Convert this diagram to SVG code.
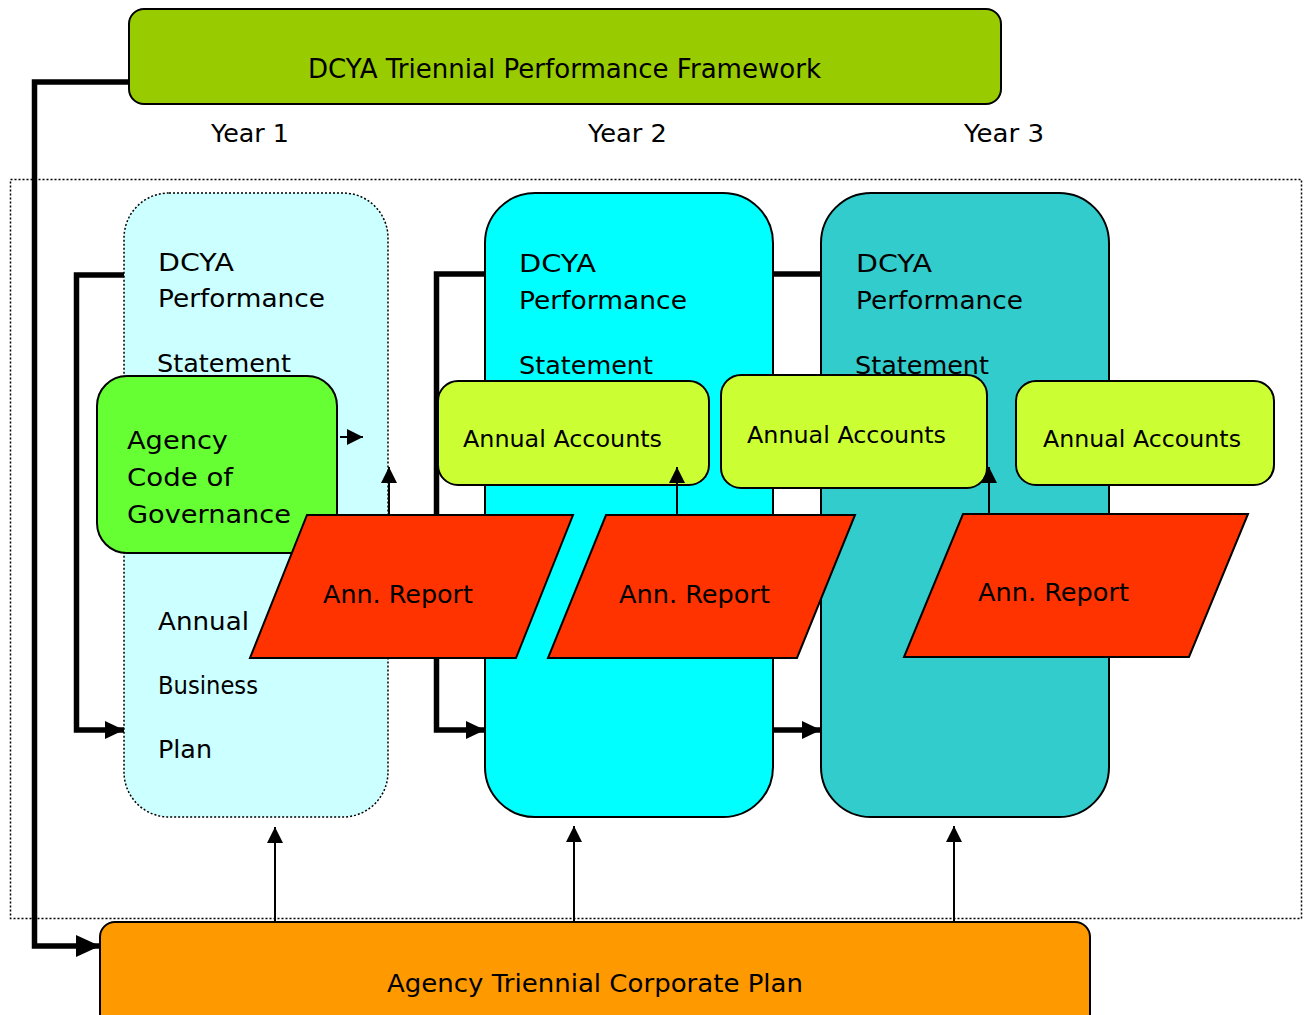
<svg xmlns="http://www.w3.org/2000/svg" width="1310" height="1015" viewBox="0 0 1310 1015">
<style>
text{font-family:"DejaVu Sans","Liberation Sans",sans-serif;fill:#000;}
.t26{font-size:26px}.t25{font-size:25px}.t24{font-size:24px}.t23{font-size:23px}
.box{stroke:#000;stroke-width:2}
.dot{fill:none;stroke:#000;stroke-width:1.5;stroke-dasharray:2 2}
.thick{fill:none;stroke:#000;stroke-width:5.5;stroke-linejoin:miter}
.thin{fill:none;stroke:#000;stroke-width:2}
</style>
<defs>
<marker id="ah-big" markerUnits="userSpaceOnUse" markerWidth="24" markerHeight="22" refX="24" refY="11" orient="auto"><path d="M0,0 L24,11 L0,22 z" fill="#000"/></marker>
<marker id="ah-thick" markerUnits="userSpaceOnUse" markerWidth="19" markerHeight="18" refX="19" refY="9" orient="auto"><path d="M0,0 L19,9 L0,18 z" fill="#000"/></marker>
<marker id="ah-thin" markerUnits="userSpaceOnUse" markerWidth="16" markerHeight="16" refX="16" refY="8" orient="auto"><path d="M0,0 L16,8 L0,16 z" fill="#000"/></marker>
</defs>
<rect width="1310" height="1015" fill="#fff"/>

<g id="outer-frame"><rect class="dot" x="10.5" y="179.5" width="1291" height="739"/></g>

<g id="framework">
<rect class="box" x="129" y="9" width="872" height="95" rx="15" fill="#99CC00"/>
<text class="t26" x="308" y="78" textLength="513" lengthAdjust="spacingAndGlyphs">DCYA Triennial Performance Framework</text>
</g>

<g id="year-labels">
<text class="t25" x="211" y="142" textLength="78" lengthAdjust="spacingAndGlyphs">Year 1</text>
<text class="t25" x="588" y="142" textLength="79" lengthAdjust="spacingAndGlyphs">Year 2</text>
<text class="t25" x="964" y="142" textLength="80" lengthAdjust="spacingAndGlyphs">Year 3</text>
</g>

<g id="panel-year1">
<rect x="124" y="193" width="264" height="624" rx="45" fill="#CCFFFF" stroke="#000" stroke-width="1.5" stroke-dasharray="2 2"/>
<text class="t25" x="158" y="271" textLength="76" lengthAdjust="spacingAndGlyphs">DCYA</text>
<text class="t25" x="158" y="307" textLength="167" lengthAdjust="spacingAndGlyphs">Performance</text>
<text class="t25" x="157" y="372" textLength="134" lengthAdjust="spacingAndGlyphs">Statement</text>
<text class="t25" x="158" y="630" textLength="91" lengthAdjust="spacingAndGlyphs">Annual</text>
<text class="t25" x="158" y="694" textLength="100" lengthAdjust="spacingAndGlyphs">Business</text>
<text class="t25" x="158" y="758" textLength="54" lengthAdjust="spacingAndGlyphs">Plan</text>
</g>

<g id="panel-year2">
<rect class="box" x="485" y="193" width="288" height="624" rx="50" fill="#00FFFF"/>
<text class="t25" x="519" y="272" textLength="77" lengthAdjust="spacingAndGlyphs">DCYA</text>
<text class="t25" x="519" y="309" textLength="168" lengthAdjust="spacingAndGlyphs">Performance</text>
<text class="t25" x="519" y="374" textLength="134" lengthAdjust="spacingAndGlyphs">Statement</text>
</g>

<g id="panel-year3">
<rect class="box" x="821" y="193" width="288" height="624" rx="50" fill="#33CCCC"/>
<text class="t25" x="856" y="272" textLength="76" lengthAdjust="spacingAndGlyphs">DCYA</text>
<text class="t25" x="856" y="309" textLength="167" lengthAdjust="spacingAndGlyphs">Performance</text>
<text class="t25" x="855" y="374" textLength="134" lengthAdjust="spacingAndGlyphs">Statement</text>
</g>

<g id="connectors">
<path class="thick" d="M129,82 H34.5 V946 H100" stroke-width="7" marker-end="url(#ah-big)"/>
<path class="thick" d="M124,275 H76.5 V730 H124" marker-end="url(#ah-thick)"/>
<path class="thick" d="M485,274 H436.5 V730 H485" marker-end="url(#ah-thick)"/>
<path class="thick" d="M773,274 H821"/>
<path class="thick" d="M773,730 H821" marker-end="url(#ah-thick)"/>
<path class="thin" d="M275,922 V827" marker-end="url(#ah-thin)"/>
<path class="thin" d="M574,922 V826" marker-end="url(#ah-thin)"/>
<path class="thin" d="M954,922 V826" marker-end="url(#ah-thin)"/>
<path class="thin" d="M340,437 H363" marker-end="url(#ah-thin)"/>
</g>

<g id="agency-code">
<rect class="box" x="97" y="376" width="240" height="177" rx="30" fill="#66FF33"/>
<text class="t25" x="127" y="449" textLength="101" lengthAdjust="spacingAndGlyphs">Agency</text>
<text class="t25" x="127" y="486" textLength="106" lengthAdjust="spacingAndGlyphs">Code of</text>
<text class="t25" x="127" y="523" textLength="164" lengthAdjust="spacingAndGlyphs">Governance</text>
</g>

<g id="accounts-1">
<rect class="box" x="438" y="381" width="271" height="104" rx="20" fill="#CCFF33"/>
<text class="t23" x="463" y="447" textLength="199" lengthAdjust="spacingAndGlyphs">Annual Accounts</text>
</g>
<g id="accounts-2">
<rect class="box" x="721" y="375" width="266" height="113" rx="20" fill="#CCFF33"/>
<text class="t23" x="747" y="443" textLength="199" lengthAdjust="spacingAndGlyphs">Annual Accounts</text>
</g>
<g id="accounts-3">
<rect class="box" x="1016" y="381" width="258" height="104" rx="20" fill="#CCFF33"/>
<text class="t23" x="1043" y="447" textLength="198" lengthAdjust="spacingAndGlyphs">Annual Accounts</text>
</g>

<g id="report-arrows">
<path class="thin" d="M389,515 V467" marker-end="url(#ah-thin)"/>
<path class="thin" d="M677,515 V467" marker-end="url(#ah-thin)"/>
<path class="thin" d="M989,514 V467" marker-end="url(#ah-thin)"/>
</g>

<g id="report-1">
<polygon class="box" points="307,515 573,515 516,658 250,658" fill="#FF3300"/>
<text class="t24" x="323" y="603" textLength="150" lengthAdjust="spacingAndGlyphs">Ann. Report</text>
</g>
<g id="report-2">
<polygon class="box" points="606,515 855,515 797,658 548,658" fill="#FF3300"/>
<text class="t24" x="619" y="603" textLength="151" lengthAdjust="spacingAndGlyphs">Ann. Report</text>
</g>
<g id="report-3">
<polygon class="box" points="963,514 1248,514 1189,657 904,657" fill="#FF3300"/>
<text class="t24" x="978" y="601" textLength="151" lengthAdjust="spacingAndGlyphs">Ann. Report</text>
</g>

<g id="corporate-plan">
<rect class="box" x="100" y="922" width="990" height="110" rx="15" fill="#FF9900"/>
<text class="t25" x="387" y="992" textLength="416" lengthAdjust="spacingAndGlyphs">Agency Triennial Corporate Plan</text>
</g>
</svg>
